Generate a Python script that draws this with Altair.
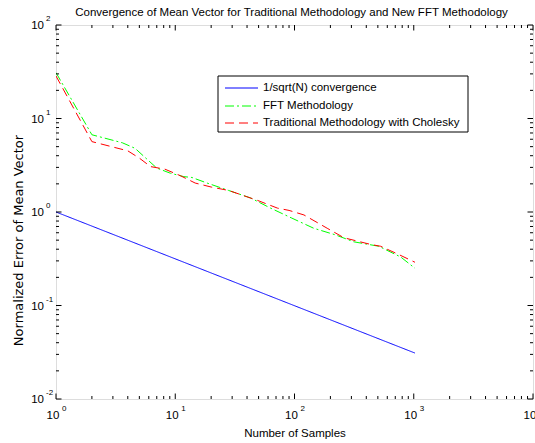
import altair as alt
import pandas as pd

# ---- data ----
N_ref = [1, 1024]
V_ref = [1.0, 0.031]

N_fft = [1, 2, 3.6, 4.6, 7, 9.1, 11.8, 13.8, 18.5, 28, 43, 63, 95, 145, 220, 314, 510, 620, 778, 1024]
V_fft = [30.9, 6.7, 5.5, 4.8, 2.95, 2.6, 2.39, 2.34, 2.04, 1.70, 1.41, 1.10, 0.86, 0.67, 0.57, 0.48, 0.43, 0.38, 0.33, 0.25]

N_trad = [1, 2, 4, 5, 6.2, 8.2, 11, 14.7, 20, 28, 49, 72, 90, 120, 188, 260, 435, 528, 752, 1024]
V_trad = [28.5, 5.66, 4.51, 3.77, 3.06, 2.87, 2.45, 2.04, 1.85, 1.70, 1.33, 1.10, 1.04, 0.93, 0.67, 0.53, 0.45, 0.43, 0.35, 0.29]

series_names = ["1/sqrt(N) convergence", "FFT Methodology", "Traditional Methodology with Cholesky"]
series_colors = ["#0000FF", "#00FF00", "#FF0000"]
series_dash = [[1, 0], [9, 3, 2, 3], [9, 5]]

x_major = [1, 10, 100, 1000, 10000]
x_exp = ["0", "1", "2", "3", "4"]
y_major = [0.01, 0.1, 1, 10, 100]
y_exp = ["-2", "-1", "0", "1", "2"]

TITLE = "Convergence of Mean Vector for Traditional Methodology and New FFT Methodology"

FONT = "Liberation Sans"
W, H = 477, 374

x_minor = [m * d for d in [1, 10, 100, 1000] for m in range(2, 10)]
y_minor = [m * d for d in [0.01, 0.1, 1, 10] for m in range(2, 10)]

xs = alt.Scale(type="log", domain=[1, 10000], nice=False)
ys = alt.Scale(type="log", domain=[0.01, 100], nice=False)
xaxis = alt.Axis(title="Number of Samples", labels=False, ticks=False, domain=False, grid=False,
                 titleFont=FONT, titleFontSize=11.5, titleFontWeight="normal", titleColor="black",
                 titleY=34, titleBaseline="middle")
yaxis = alt.Axis(title="Normalized Error of Mean Vector", labels=False, ticks=False, domain=False, grid=False,
                 titleFont="DejaVu Sans", titleFontSize=13, titleFontWeight="normal", titleColor="black",
                 titleX=-38, titleY=215, titleBaseline="middle", titleAngle=270)


def X(f):
    return alt.X(f, type="quantitative", scale=xs, axis=xaxis)


def Y(f):
    return alt.Y(f, type="quantitative", scale=ys, axis=yaxis)


layers = []
for name, col, dash, ns, vs in zip(series_names, series_colors, series_dash,
                                   [N_ref, N_fft, N_trad], [V_ref, V_fft, V_trad]):
    df = pd.DataFrame({"N": ns, "v": vs})
    layers.append(alt.Chart(df).mark_line(color=col, strokeDash=dash, strokeWidth=1, clip=True)
                  .encode(x=X("N"), y=Y("v")))

# inside ticks
dxM = pd.DataFrame({"t": x_major})
dxm = pd.DataFrame({"t": x_minor})
dyM = pd.DataFrame({"t": y_major})
dym = pd.DataFrame({"t": y_minor})
for d, L in [(dxM, 5.5), (dxm, 3)]:
    layers.append(alt.Chart(d).mark_rule(color="black", strokeWidth=1)
                  .encode(x=X("t"), y=alt.value(H), y2=alt.value(H - L)))
    layers.append(alt.Chart(d).mark_rule(color="black", strokeWidth=1)
                  .encode(x=X("t"), y=alt.value(0), y2=alt.value(L)))
for d, L in [(dyM, 5.5), (dym, 3)]:
    layers.append(alt.Chart(d).mark_rule(color="black", strokeWidth=1)
                  .encode(y=Y("t"), x=alt.value(0), x2=alt.value(L)))
    layers.append(alt.Chart(d).mark_rule(color="black", strokeWidth=1)
                  .encode(y=Y("t"), x=alt.value(W), x2=alt.value(W - L)))

# tick labels (10 with exponent)
xl = pd.DataFrame({"t": x_major, "e": x_exp, "b": ["10"] * 5})
yl = pd.DataFrame({"t": y_major, "e": y_exp, "b": ["10"] * 5})
layers.append(alt.Chart(xl).mark_text(font=FONT, fontSize=11.5, align="center", baseline="middle", dx=-3, color="black")
              .encode(x=X("t"), y=alt.value(H + 17), text="b:N"))
layers.append(alt.Chart(xl).mark_text(font=FONT, fontSize=8, align="left", baseline="middle", dx=6, color="black")
              .encode(x=X("t"), y=alt.value(H + 10), text="e:N"))
layers.append(alt.Chart(yl).mark_text(font=FONT, fontSize=11.5, align="right", baseline="middle", dy=1, color="black")
              .encode(y=Y("t"), x=alt.value(-12), text="b:N"))
layers.append(alt.Chart(yl).mark_text(font=FONT, fontSize=8, align="left", baseline="middle", dy=-6, color="black")
              .encode(y=Y("t"), x=alt.value(-10), text="e:N"))

# title as text
layers.append(alt.Chart(pd.DataFrame({"t": [TITLE]})).mark_text(font=FONT, fontSize=11.5, align="center",
                                                                baseline="middle", color="black")
              .encode(x=alt.value(W / 2 - 3), y=alt.value(-12), text="t:N"))

# legend box
LX0, LX1, LY0, LY1 = 162, 412, 51, 107
layers.append(alt.Chart(pd.DataFrame({"a": [0]})).mark_rect(fill="white", stroke="black", strokeWidth=1)
              .encode(x=alt.value(LX0), x2=alt.value(LX1), y=alt.value(LY0), y2=alt.value(LY1)))
rows = [63, 81, 98]
for name, col, dash, ry in zip(series_names, series_colors, series_dash, rows):
    layers.append(alt.Chart(pd.DataFrame({"a": [0]})).mark_rule(color=col, strokeDash=dash, strokeWidth=1)
                  .encode(x=alt.value(169), x2=alt.value(202), y=alt.value(ry)))
    layers.append(alt.Chart(pd.DataFrame({"name": [name]})).mark_text(font=FONT, fontSize=11.5, align="left",
                                                                       baseline="middle", color="black")
                  .encode(x=alt.value(207), y=alt.value(ry), text="name:N"))

chart = alt.layer(*layers).properties(
    width=W, height=H,
    autosize=alt.AutoSizeParams(type="none"),
    padding={"left": 56, "top": 25, "right": 2, "bottom": 44},
).configure_view(stroke="black", strokeWidth=1).configure(background="white")

chart.save("out.html", embed_options={"renderer": "svg", "actions": False})
